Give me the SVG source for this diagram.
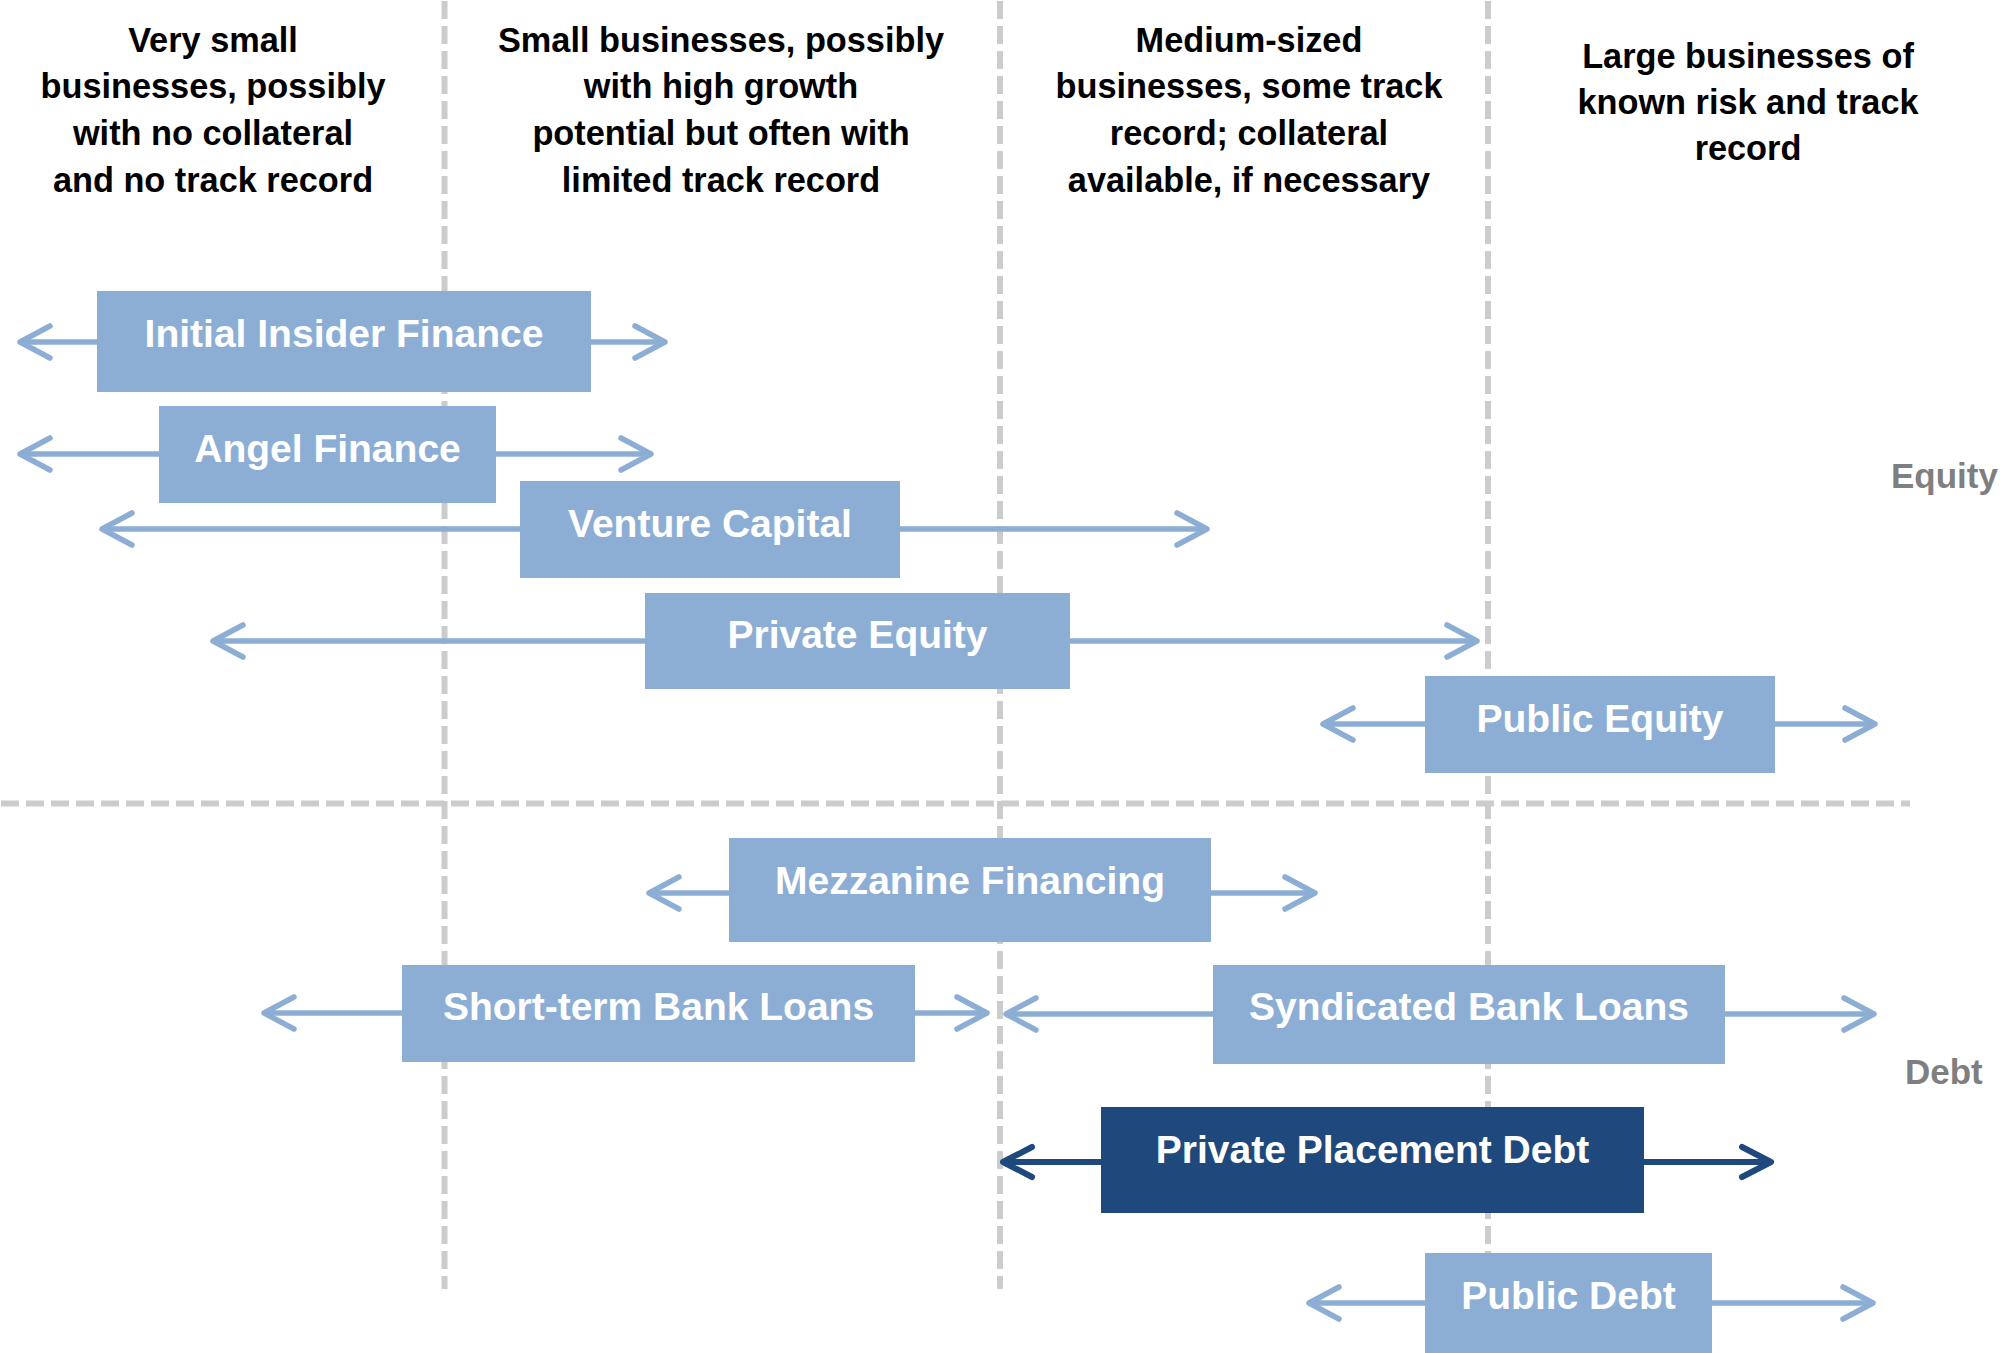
<svg xmlns="http://www.w3.org/2000/svg" width="2000" height="1353" viewBox="0 0 2000 1353">
  <defs>
    <style>
      .grid { stroke: #cccccc; stroke-width: 6; stroke-dasharray: 18 7; fill: none; }
      .hdr { font-family: "Liberation Sans", Arial, sans-serif; font-weight: bold; font-size: 34.3px; fill: #000000; text-anchor: middle; }
      .side { font-family: "Liberation Sans", Arial, sans-serif; font-weight: bold; font-size: 35px; fill: #7f7f7f; }
      .box { fill: #8DAED4; }
      .box-dark { fill: #1F497D; }
      .lbl { font-family: "Liberation Sans", Arial, sans-serif; font-weight: bold; font-size: 39px; fill: #ffffff; text-anchor: middle; }
      .conn { stroke: #8DAED4; stroke-width: 5.5; fill: none; marker-end: url(#chev); }
      .conn-dark { stroke: #1F497D; stroke-width: 6; fill: none; marker-end: url(#chevDark); }
    </style>
    <marker id="chev" markerUnits="userSpaceOnUse" markerWidth="40" markerHeight="40" refX="32" refY="18" orient="auto" overflow="visible">
      <path d="M2 2 L32 18 L2 34" fill="none" stroke="#8DAED4" stroke-width="5.5" stroke-linecap="round" stroke-linejoin="round"/>
    </marker>
    <marker id="chevDark" markerUnits="userSpaceOnUse" markerWidth="40" markerHeight="40" refX="32" refY="18" orient="auto" overflow="visible">
      <path d="M3 3 L32 18 L3 33" fill="none" stroke="#1F497D" stroke-width="6" stroke-linecap="round" stroke-linejoin="round"/>
    </marker>
  </defs>
  <rect x="0" y="0" width="2000" height="1353" fill="#ffffff"/>

  <g id="gridlines">
    <line class="grid" x1="444.5" y1="1" x2="444.5" y2="1289"/>
    <line class="grid" x1="1000" y1="1" x2="1000" y2="1289"/>
    <line class="grid" x1="1488" y1="1" x2="1488" y2="1289"/>
    <line class="grid" x1="1" y1="803.5" x2="1910" y2="803.5"/>
  </g>

  <g id="headers">
    <text class="hdr"><tspan x="213" y="52">Very small</tspan><tspan x="213" y="98">businesses, possibly</tspan><tspan x="213" y="145">with no collateral</tspan><tspan x="213" y="192">and no track record</tspan></text>
    <text class="hdr"><tspan x="721" y="52">Small businesses, possibly</tspan><tspan x="721" y="98">with high growth</tspan><tspan x="721" y="145">potential but often with</tspan><tspan x="721" y="192">limited track record</tspan></text>
    <text class="hdr"><tspan x="1249" y="52">Medium-sized</tspan><tspan x="1249" y="98">businesses, some track</tspan><tspan x="1249" y="145">record; collateral</tspan><tspan x="1249" y="192">available, if necessary</tspan></text>
    <text class="hdr"><tspan x="1748" y="68">Large businesses of</tspan><tspan x="1748" y="114">known risk and track</tspan><tspan x="1748" y="160">record</tspan></text>
  </g>

  <g id="side-labels">
    <text class="side" x="1891" y="488">Equity</text>
    <text class="side" x="1905" y="1084">Debt</text>
  </g>

  <g id="connectors">
    <line class="conn" x1="97" y1="342" x2="20" y2="342"/>
    <line class="conn" x1="591" y1="342" x2="665" y2="342"/>
    <line class="conn" x1="159" y1="454" x2="20" y2="454"/>
    <line class="conn" x1="496" y1="454" x2="651" y2="454"/>
    <line class="conn" x1="520" y1="529" x2="102" y2="529"/>
    <line class="conn" x1="900" y1="529" x2="1207" y2="529"/>
    <line class="conn" x1="645" y1="641" x2="213" y2="641"/>
    <line class="conn" x1="1070" y1="641" x2="1477" y2="641"/>
    <line class="conn" x1="1425" y1="724" x2="1323" y2="724"/>
    <line class="conn" x1="1775" y1="724" x2="1875" y2="724"/>
    <line class="conn" x1="729" y1="893" x2="649" y2="893"/>
    <line class="conn" x1="1211" y1="893" x2="1315" y2="893"/>
    <line class="conn" x1="402" y1="1013" x2="264" y2="1013"/>
    <line class="conn" x1="915" y1="1013" x2="987" y2="1013"/>
    <line class="conn" x1="1213" y1="1014" x2="1006" y2="1014"/>
    <line class="conn" x1="1725" y1="1014" x2="1874" y2="1014"/>
    <line class="conn-dark" x1="1101" y1="1162" x2="1003" y2="1162"/>
    <line class="conn-dark" x1="1644" y1="1162" x2="1771" y2="1162"/>
    <line class="conn" x1="1425" y1="1303" x2="1309" y2="1303"/>
    <line class="conn" x1="1712" y1="1303" x2="1873" y2="1303"/>
  </g>

  <g id="node-initial-insider-finance">
    <rect class="box" x="97" y="291" width="494" height="101"/>
    <text class="lbl" x="344" y="347">Initial Insider Finance</text>
  </g>
  <g id="node-angel-finance">
    <rect class="box" x="159" y="406" width="337" height="97"/>
    <text class="lbl" x="327.5" y="462">Angel Finance</text>
  </g>
  <g id="node-venture-capital">
    <rect class="box" x="520" y="481" width="380" height="97"/>
    <text class="lbl" x="710" y="537">Venture Capital</text>
  </g>
  <g id="node-private-equity">
    <rect class="box" x="645" y="593" width="425" height="96"/>
    <text class="lbl" x="857.5" y="648">Private Equity</text>
  </g>
  <g id="node-public-equity">
    <rect class="box" x="1425" y="676" width="350" height="97"/>
    <text class="lbl" x="1600" y="732">Public Equity</text>
  </g>
  <g id="node-mezzanine-financing">
    <rect class="box" x="729" y="838" width="482" height="104"/>
    <text class="lbl" x="970" y="894">Mezzanine Financing</text>
  </g>
  <g id="node-short-term-bank-loans">
    <rect class="box" x="402" y="965" width="513" height="97"/>
    <text class="lbl" x="658.5" y="1020">Short-term Bank Loans</text>
  </g>
  <g id="node-syndicated-bank-loans">
    <rect class="box" x="1213" y="965" width="512" height="99"/>
    <text class="lbl" x="1469" y="1020">Syndicated Bank Loans</text>
  </g>
  <g id="node-private-placement-debt">
    <rect class="box-dark" x="1101" y="1107" width="543" height="106"/>
    <text class="lbl" x="1372.5" y="1163">Private Placement Debt</text>
  </g>
  <g id="node-public-debt">
    <rect class="box" x="1425" y="1253" width="287" height="100"/>
    <text class="lbl" x="1568.5" y="1309">Public Debt</text>
  </g>
</svg>
